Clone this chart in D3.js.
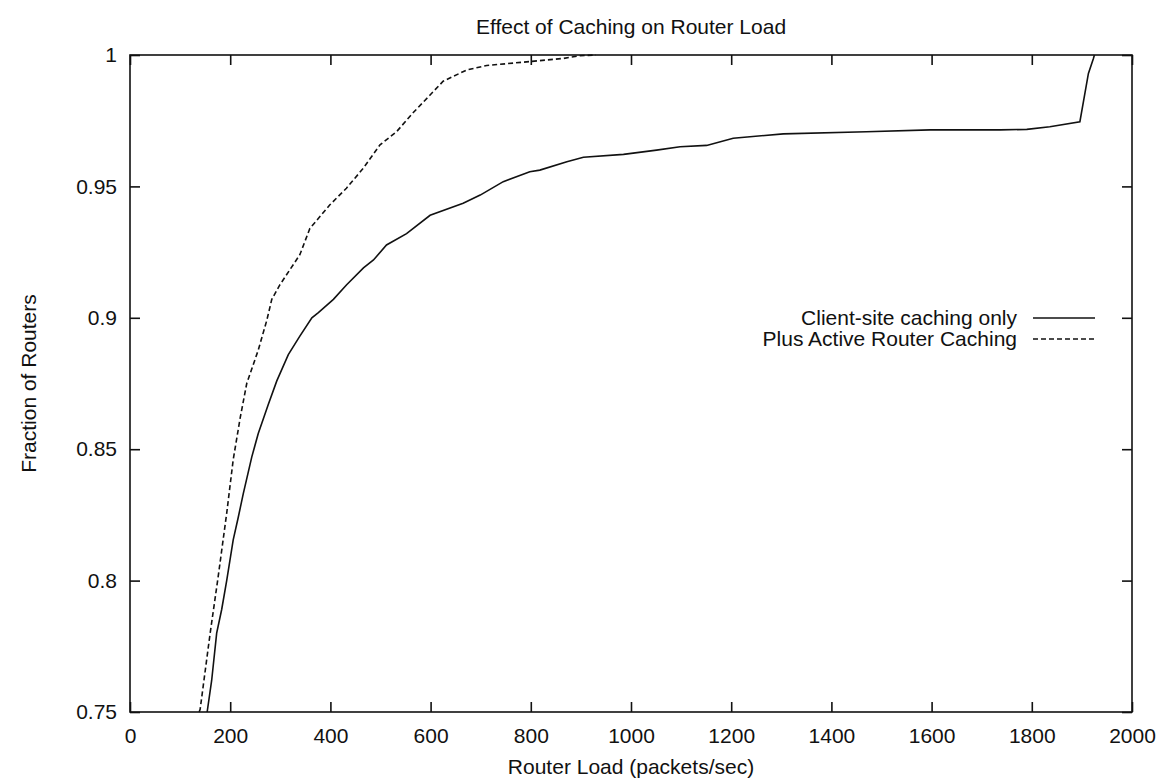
<!DOCTYPE html>
<html lang="en">
<head>
<meta charset="UTF-8" />
<title>Effect of Caching on Router Load</title>
<style>
  * { margin: 0; padding: 0; }
  body { background: #fff; }
  svg text { font-family: 'Liberation Sans', Arial, sans-serif; fill: #111; }
  .frame { fill: none; stroke: #111; stroke-width: 1.6px; }
  .tick line { stroke: #111; stroke-width: 1.6px; }
  .curve { fill: none; stroke: #111; stroke-width: 1.6px; }
</style>
</head>
<body>
<svg id="chart" width="1158" height="779"></svg>
<script src="https://cdn.jsdelivr.net/npm/d3@7"></script>
<script>
// values
const clientLoad = [154, 163, 173, 183, 193, 206, 216, 226, 243, 256, 276, 293, 316, 339, 363, 376, 406, 432, 466, 486, 512, 552, 599, 665, 699, 745, 798, 818, 872, 905, 985, 1051, 1098, 1151, 1204, 1304, 1470, 1597, 1737, 1790, 1836, 1896, 1913, 1923, 1925];
const clientFrac = [0.75, 0.762, 0.780, 0.789, 0.800, 0.8155, 0.824, 0.833, 0.847, 0.856, 0.867, 0.876, 0.886, 0.893, 0.900, 0.902, 0.907, 0.9125, 0.919, 0.922, 0.9277, 0.932, 0.939, 0.9436, 0.9467, 0.9518, 0.9556, 0.9562, 0.9594, 0.9611, 0.9622, 0.9638, 0.9651, 0.9656, 0.9683, 0.970, 0.9708, 0.9715, 0.9715, 0.9717, 0.9727, 0.9746, 0.993, 0.9987, 1.0];

const activeLoad = [138, 140, 160, 176, 193, 206, 220, 233, 256, 273, 283, 299, 339, 359, 399, 432, 466, 499, 532, 565, 599, 625, 672, 712, 798, 865, 898, 930];
const activeFrac = [0.75, 0.751, 0.780, 0.8015, 0.8256, 0.846, 0.862, 0.875, 0.8877, 0.899, 0.907, 0.9125, 0.924, 0.934, 0.943, 0.9493, 0.957, 0.9658, 0.9708, 0.978, 0.9848, 0.990, 0.9943, 0.996, 0.9975, 0.9987, 0.9997, 1.0];

const xTicks = [0, 200, 400, 600, 800, 1000, 1200, 1400, 1600, 1800, 2000];
const yTicks = [0.75, 0.8, 0.85, 0.9, 0.95, 1];
const seriesNames = ['Client-site caching only', 'Plus Active Router Caching'];

const svg = d3.select('#chart');
const m = { left: 130, right: 1132, top: 55, bottom: 712 };
const fs = 21;

const x = d3.scaleLinear().domain([0, 2000]).range([m.left, m.right]);
const y = d3.scaleLinear().domain([0.75, 1]).range([m.bottom, m.top]);

// axes, ticks pointing inward on all four sides
const fmtY = d => (d === 1 ? '1' : String(+d.toFixed(2)));
svg.append('g').attr('transform', `translate(0,${m.bottom})`)
  .call(d3.axisBottom(x).tickValues(xTicks).tickSize(-10).tickPadding(16).tickFormat(d3.format('d')));
svg.append('g').attr('transform', `translate(0,${m.top})`)
  .call(d3.axisTop(x).tickValues(xTicks).tickSize(-10).tickFormat(''));
svg.append('g').attr('transform', `translate(${m.left},0)`)
  .call(d3.axisLeft(y).tickValues(yTicks).tickSize(-10).tickPadding(13).tickFormat(fmtY));
svg.append('g').attr('transform', `translate(${m.right},0)`)
  .call(d3.axisRight(y).tickValues(yTicks).tickSize(-10).tickFormat(''));
svg.selectAll('.domain').remove();
svg.selectAll('.tick text').attr('font-size', fs).attr('font-family', "'Liberation Sans', Arial, sans-serif").attr('fill', '#111');

svg.append('rect').attr('class', 'frame')
  .attr('x', m.left).attr('y', m.top).attr('width', m.right - m.left).attr('height', m.bottom - m.top);

const line = d3.line().x(d => x(d[0])).y(d => y(d[1]));
svg.append('path').attr('class', 'curve')
  .attr('d', line(d3.zip(clientLoad, clientFrac)));
svg.append('path').attr('class', 'curve').attr('stroke-dasharray', '5,3')
  .attr('d', line(d3.zip(activeLoad, activeFrac)));

// legend
const legend = svg.append('g');
seriesNames.forEach((name, i) => {
  const ly = 318 + i * 21;
  legend.append('text').attr('x', 1017).attr('y', ly + 7).attr('text-anchor', 'end')
    .attr('font-size', fs).text(name);
  legend.append('line').attr('class', 'curve')
    .attr('x1', 1033).attr('x2', 1095).attr('y1', ly).attr('y2', ly)
    .attr('stroke-dasharray', i === 1 ? '5,3' : null);
});

// titles
svg.append('text').attr('x', (m.left + m.right) / 2).attr('y', 34).attr('text-anchor', 'middle')
  .attr('font-size', fs).text('Effect of Caching on Router Load');
svg.append('text').attr('x', (m.left + m.right) / 2).attr('y', 774).attr('text-anchor', 'middle')
  .attr('font-size', fs).text('Router Load (packets/sec)');
svg.append('text').attr('transform', `translate(36,${(m.top + m.bottom) / 2}) rotate(-90)`)
  .attr('text-anchor', 'middle').attr('font-size', fs).text('Fraction of Routers');
</script>
</body>
</html>
